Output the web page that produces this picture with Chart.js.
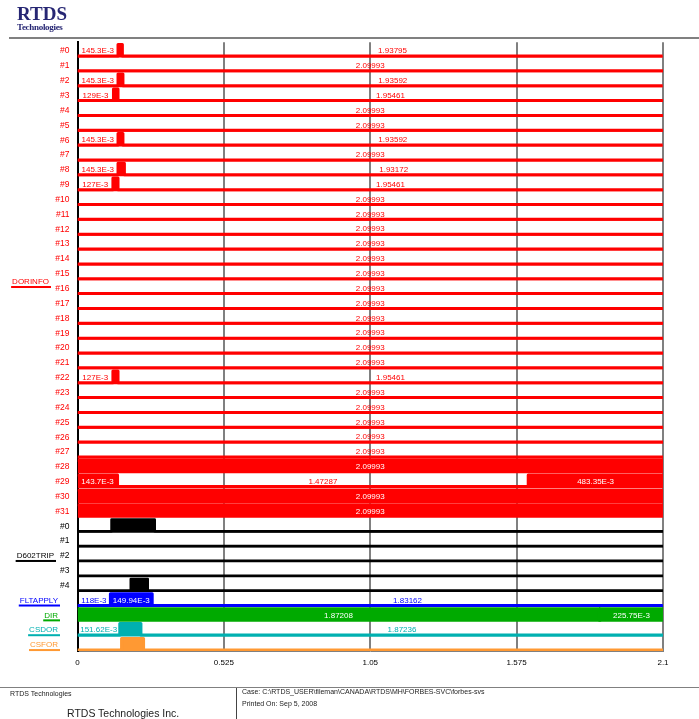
<!DOCTYPE html>
<html lang="en">
<head>
  <meta charset="UTF-8">
  <title>RTDS DORINFO / D602TRIP timing</title>
  <script src="https://cdn.jsdelivr.net/npm/chart.js"></script>
  <style>
    body {
      margin: 0;
      font-family: 'Liberation Sans', Arial, sans-serif;
      background: #fff;
    }
    #wrap {
      position: relative;
      width: 699px;
      height: 719px;
      overflow: hidden;
    }
    canvas {
      position: absolute;
      left: 0;
      top: 0;
    }
    .abs { position: absolute; white-space: nowrap; }
    .logo {
      left: 17px; top: 3px;
      font-family: 'Liberation Serif', 'Times New Roman', serif;
      font-weight: bold; font-size: 19px; color: #262673;
    }
    .logo2 {
      left: 17px; top: 22px;
      font-family: 'Liberation Serif', 'Times New Roman', serif;
      font-weight: bold; font-size: 9px; color: #262673; letter-spacing: -0.3px;
    }
    .hline { position: absolute; background: #808080; }
    .small { font-size: 7px; color: #222; }
  </style>
</head>
<body>
<div id="wrap">
  <canvas id="myChart" width="699" height="719"></canvas>
  <div class="abs logo">RTDS</div>
  <div class="abs logo2">Technologies</div>
  <div class="hline" style="left:9px; top:37px; width:690px; height:2px;"></div>
  <div class="hline" style="left:0; top:687px; width:699px; height:1px;"></div>
  <div class="hline" style="left:236px; top:688px; width:1px; height:31px; background:#444;"></div>
  <div class="abs small" style="left:10px; top:690px;">RTDS Technologies</div>
  <div class="abs" style="left:67px; top:707px; font-size:10.5px; color:#222;">RTDS Technologies Inc.</div>
  <div class="abs small" style="left:242px; top:688px;">Case: C:\RTDS_USER\fileman\CANADA\RTDS\MH\FORBES-SVC\forbes-svs</div>
  <div class="abs small" style="left:242px; top:700px;">Printed On: Sep 5, 2008</div>
</div>

<script>
  // x axis
  const xTicks = [0, 0.525, 1.05, 1.575, 2.1];

  // DORINFO bits: starting level (0 low, 1 high) and segment durations (s)
  const dorinfoNames = ['#0', '#1', '#2', '#3', '#4', '#5', '#6', '#7', '#8', '#9',
    '#10', '#11', '#12', '#13', '#14', '#15', '#16', '#17', '#18', '#19',
    '#20', '#21', '#22', '#23', '#24', '#25', '#26', '#27', '#28', '#29', '#30', '#31'];
  const dorinfoStart = [0, 0, 0, 0, 0, 0, 0, 0, 0, 0,
    0, 0, 0, 0, 0, 0, 0, 0, 0, 0,
    0, 0, 0, 0, 0, 0, 0, 0, 1, 1, 1, 1];
  const dorinfoDurations = [
    [0.1453, 0.01568, 1.93795],
    [2.09993],
    [0.1453, 0.01771, 1.93592],
    [0.129, 0.01632, 1.95461],
    [2.09993],
    [2.09993],
    [0.1453, 0.01771, 1.93592],
    [2.09993],
    [0.1453, 0.02291, 1.93172],
    [0.127, 0.01832, 1.95461],
    [2.09993], [2.09993], [2.09993], [2.09993], [2.09993], [2.09993],
    [2.09993], [2.09993], [2.09993], [2.09993], [2.09993], [2.09993],
    [0.127, 0.01832, 1.95461],
    [2.09993], [2.09993], [2.09993], [2.09993], [2.09993],
    [2.09993],
    [0.1437, 1.47287, 0.48335],
    [2.09993],
    [2.09993]
  ];

  // D602TRIP bits
  const d602Names = ['#0', '#1', '#2', '#3', '#4'];
  const d602Start = [0, 0, 0, 0, 0];
  const d602Durations = [
    [0.122, 0.155, 1.82293],
    [2.09993],
    [2.09993],
    [2.09993],
    [0.191, 0.061, 1.84793]
  ];

  // single bit signals
  const fltapplyDurations = [0.118, 0.14994, 1.83162];
  const dirDurations = [1.87208, 0.0021, 0.22575];
  const csdorDurations = [0.15162, 0.07595, 1.87236];
  const csforDurations = [0.158, 0.079, 1.86293];

  const RED = '#ff0000', BLACK = '#000000', BLUE = '#0000ff',
        GREEN = '#00aa00', TEAL = '#00b0b0', ORANGE = '#ff9933';

  // one entry per row, top to bottom
  const rows = [];
  dorinfoNames.forEach((n, i) => rows.push({ tick: n, color: RED, start: dorinfoStart[i], dur: dorinfoDurations[i], labels: true }));
  d602Names.forEach((n, i) => rows.push({ tick: n, color: BLACK, start: d602Start[i], dur: d602Durations[i], labels: false, width: 2.5 }));
  rows.push({ tick: '', color: BLUE, start: 0, dur: fltapplyDurations, labels: true });
  rows.push({ tick: '', color: GREEN, start: 1, dur: dirDurations, labels: true });
  rows.push({ tick: '', color: TEAL, start: 0, dur: csdorDurations, labels: true });
  rows.push({ tick: '', color: ORANGE, start: 0, dur: csforDurations, labels: false });

  // signal names on the left
  const groups = [
    { text: 'DORINFO', color: RED, at: 16.15, right: 49 },
    { text: 'D602TRIP', color: BLACK, at: 34.6, right: 54 },
    { text: 'FLTAPPLY', color: BLUE, at: 37.6, right: 58 },
    { text: 'DIR', color: GREEN, at: 38.6, right: 58 },
    { text: 'CSDOR', color: TEAL, at: 39.6, right: 58 },
    { text: 'CSFOR', color: ORANGE, at: 40.6, right: 58 }
  ];

  const LOW = 0.93, HIGH = 0.15, LABEL_POS = 0.6;

  function levelY(row, lvl) {
    return row + (lvl ? HIGH : LOW);
  }

  const datasets = rows.map((r, i) => {
    const pts = [];
    let t = 0, lvl = r.start;
    r.dur.forEach(d => {
      pts.push({ x: t, y: levelY(i, lvl) });
      t += d;
      lvl = 1 - lvl;
    });
    pts.push({ x: t, y: levelY(i, 1 - lvl) });
    return {
      data: pts,
      stepped: true,
      borderColor: r.color,
      backgroundColor: r.color,
      borderWidth: r.width || 3,
      borderJoinStyle: 'round',
      pointRadius: 0,
      fill: { value: i + LOW + 0.1 }
    };
  });

  function fmt(d) {
    if (d < 1) return String(Math.round(d * 100000) / 100) + 'E-3';
    return String(Math.round(d * 100000) / 100000);
  }

  const segmentLabels = {
    id: 'segmentLabels',
    afterDatasetsDraw(chart) {
      const ctx = chart.ctx;
      const xs = chart.scales.x, ys = chart.scales.y;
      ctx.save();
      ctx.font = "8px 'Liberation Sans', Arial, sans-serif";
      ctx.textAlign = 'center';
      ctx.textBaseline = 'middle';
      rows.forEach((r, i) => {
        if (!r.labels) return;
        let t = 0, lvl = r.start;
        const y = ys.getPixelForValue(i + LABEL_POS);
        r.dur.forEach(d => {
          const x0 = xs.getPixelForValue(t), x1 = xs.getPixelForValue(t + d);
          const txt = fmt(d);
          if (ctx.measureText(txt).width + 3 < x1 - x0) {
            ctx.fillStyle = lvl ? '#ffffff' : r.color;
            ctx.fillText(txt, (x0 + x1) / 2, y);
          }
          t += d;
          lvl = 1 - lvl;
        });
      });

      // group names with underline
      ctx.textAlign = 'right';
      groups.forEach(g => {
        const y = ys.getPixelForValue(g.at);
        const w = ctx.measureText(g.text).width;
        ctx.fillStyle = g.color;
        ctx.fillText(g.text, g.right, y);
        ctx.fillRect(g.right - w - 1, y + 4, w + 3, 2);
      });
      ctx.restore();
    }
  };

  Chart.defaults.font.family = "'Liberation Sans', Arial, sans-serif";

  const myChart = new Chart(document.getElementById('myChart'), {
    type: 'line',
    data: { datasets: datasets },
    options: {
      responsive: false,
      animation: false,
      layout: { padding: { top: 42.2, right: 36, bottom: 48, left: 0 } },
      plugins: {
        legend: { display: false },
        tooltip: { enabled: false }
      },
      scales: {
        x: {
          type: 'linear',
          min: 0,
          max: 2.1,
          afterBuildTicks: s => { s.ticks = xTicks.map(v => ({ value: v })); },
          afterFit: s => { s.height = 20; },
          ticks: {
            callback: v => String(v),
            color: '#000',
            font: { size: 8 },
            padding: 7,
            maxRotation: 0,
            autoSkip: false
          },
          grid: {
            color: c => (c.tick && c.tick.value === 0) ? 'rgba(0,0,0,0)' : '#808080',
            lineWidth: 2,
            drawTicks: false
          },
          border: { display: true, color: '#808080', width: 1 }
        },
        y: {
          type: 'linear',
          reverse: true,
          min: 0,
          max: 41,
          afterBuildTicks: s => { s.ticks = rows.map((r, i) => ({ value: i + LABEL_POS })); },
          afterFit: s => { s.width = 77.5; },
          ticks: {
            callback: (v, i) => rows[i] ? rows[i].tick : '',
            color: c => rows[c.index] ? rows[c.index].color : '#000',
            font: { size: 8.5 },
            padding: 8,
            autoSkip: false
          },
          grid: { display: false, drawTicks: false },
          border: { display: true, color: '#000', width: 2 }
        }
      }
    },
    plugins: [segmentLabels]
  });
</script>
</body>
</html>
